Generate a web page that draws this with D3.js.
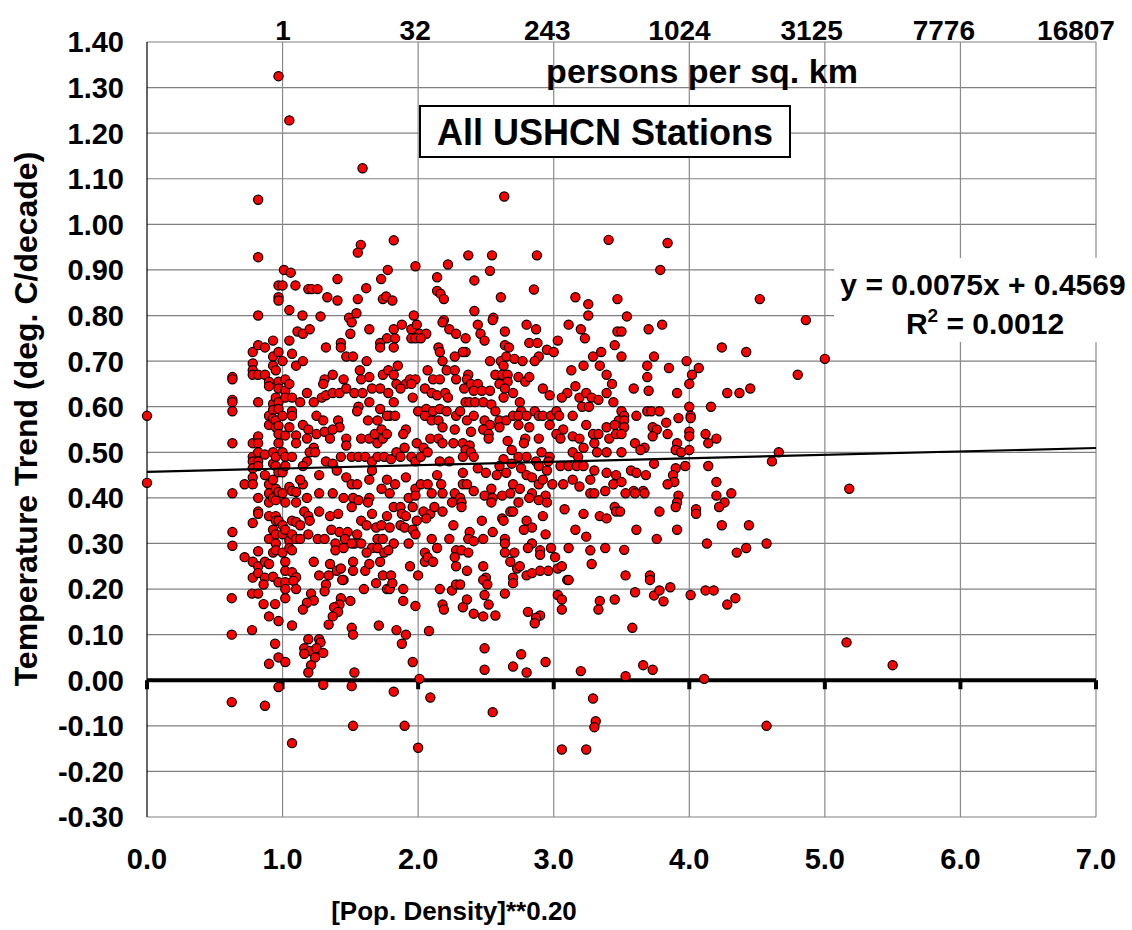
<!DOCTYPE html>
<html>
<head>
<meta charset="utf-8">
<script src="https://d3js.org/d3.v7.min.js"></script>
<style>
  body { margin: 0; background: #fff; }
  text { font-family: "Liberation Sans", Arial, sans-serif; font-weight: bold; fill: #000; }
</style>
</head>
<body>
<svg id="vis"></svg>
<script>
// ---- data ----
// x = [Pop. Density]**0.20, y = temperature trend (deg. C/decade)
const lowDensity = [
  [0,0.58],[0,0.433],
  [0.97,1.325],[1.05,1.228],[0.82,1.054],[0.82,0.928],[1.01,0.90],[1.06,0.894],[0.97,0.866],[1.0,0.866],[1.095,0.866],
  [0.97,0.84],[0.97,0.833],[1.05,0.812],[0.82,0.80],
  [0.63,0.665],[0.63,0.66],[0.63,0.615],[0.63,0.61],[0.63,0.59],[0.63,0.52],[0.63,0.41],[0.63,0.325],[0.63,0.295],
  [0.72,0.43],[0.72,0.27],
  [0.78,0.72],[0.78,0.695],[0.78,0.68],[0.78,0.67],[0.78,0.52],[0.78,0.49],[0.78,0.48],[0.78,0.465],[0.78,0.445],[0.78,0.43],
  [0.78,0.345],[0.78,0.26],[0.78,0.225],
  [0.82,0.735],[0.82,0.67],[0.82,0.61],[0.82,0.535],[0.82,0.52],[0.82,0.50],[0.82,0.48],[0.82,0.47],[0.82,0.40],[0.82,0.37],
  [0.82,0.365],[0.82,0.283],[0.82,0.25],[0.82,0.235],
  [0.87,0.73],[0.87,0.67],[0.87,0.495],[0.87,0.45],[0.87,0.26],[0.87,0.225],
  [0.90,0.655],[0.90,0.645],[0.90,0.58],[0.90,0.56],[0.90,0.43],[0.90,0.41],[0.90,0.39],[0.90,0.36],[0.90,0.31],[0.90,0.255],
  [0.93,0.745],[0.93,0.71],[0.93,0.69],[0.93,0.606],[0.93,0.593],[0.93,0.574],[0.93,0.50],[0.93,0.475],[0.93,0.44],[0.93,0.40],
  [0.93,0.33],[0.93,0.28],[0.93,0.227],
  [0.95,0.68],[0.95,0.62],[0.95,0.57],[0.95,0.555],[0.95,0.49],[0.95,0.47],[0.95,0.42],[0.95,0.395],[0.95,0.36],[0.95,0.35],
  [0.95,0.32],[0.95,0.30],[0.95,0.285],
  [0.97,0.72],[0.97,0.655],[0.97,0.64],[0.97,0.61],[0.97,0.595],[0.97,0.558],[0.97,0.54],[0.97,0.52],[0.97,0.456],[0.97,0.413],[0.97,0.35],
  [1.0,0.70],[1.0,0.58],[1.0,0.50],[1.0,0.456],[1.0,0.41],[1.0,0.34],[1.0,0.32],[1.0,0.28],
  [1.02,0.66],[1.02,0.635],[1.02,0.62],[1.02,0.537],[1.02,0.49],[1.02,0.47],[1.02,0.39],[1.02,0.33],[1.02,0.26],[1.02,0.24],
  [1.05,0.745],[1.05,0.65],[1.05,0.555],[1.05,0.424],[1.05,0.306],[1.05,0.29],
  [1.07,0.716],[1.07,0.62],[1.07,0.59],[1.07,0.58],[1.07,0.49],[1.07,0.415],[1.07,0.35],[1.07,0.32],[1.07,0.285],[1.07,0.237],
  [1.10,0.69],[1.10,0.537],[1.10,0.52],[1.10,0.413],[1.10,0.39],[1.10,0.347],[1.10,0.31],[1.10,0.226],[1.11,0.765],
  [0.86,0.21],[0.97,0.215],[1.02,0.215],[1.08,0.218],[1.02,0.20],[1.10,0.20],[0.625,0.18],[0.775,0.19],[0.82,0.19],
  [0.86,0.167],[0.945,0.167],[1.02,0.18],[0.90,0.14],[0.97,0.13],[1.07,0.12],[0.625,0.10],[0.775,0.11],[0.945,0.08],
  [0.97,0.05],[1.02,0.04],[0.90,0.036],[0.97,-0.015],[0.625,-0.048],[0.87,-0.056],[1.07,-0.138]
];

const midDensity = [
  [1.59,1.123],[1.577,0.955],[1.555,0.938],[1.82,0.965],[1.98,0.908],[2.22,0.912],[1.776,0.90],[1.727,0.88],[1.405,0.88],
  [1.617,0.86],[1.19,0.858],[1.215,0.858],[1.258,0.858],[1.33,0.84],[1.405,0.833],[1.555,0.836],[1.74,0.836],[1.764,0.842],
  [1.81,0.833],[2.14,0.884],[2.14,0.854],[2.165,0.848],[2.19,0.836],[1.147,0.80],[1.28,0.798],[1.49,0.795],[1.545,0.805],
  [1.968,0.80],[2.19,0.79],
  [1.15,0.76],[1.20,0.77],[1.51,0.785],[1.64,0.77],[1.82,0.77],[1.88,0.78],[1.95,0.77],[1.99,0.78],[2.01,0.76],[2.06,0.76],
  [2.18,0.785],[2.23,0.77],[2.28,0.76],[1.50,0.76],
  [1.32,0.73],[1.43,0.74],[1.43,0.73],[1.47,0.71],[1.52,0.71],[1.62,0.70],[1.72,0.74],[1.72,0.73],[1.77,0.75],[1.83,0.75],
  [1.82,0.73],[1.95,0.75],[1.98,0.75],[2.02,0.75],[2.15,0.73],[2.16,0.72],[2.18,0.70],[2.27,0.71],[1.15,0.70],[1.85,0.69],
  [1.31,0.66],[1.30,0.65],[1.37,0.67],[1.45,0.66],[1.57,0.68],[1.58,0.66],[1.64,0.665],[1.74,0.67],[1.78,0.68],[1.82,0.67],
  [1.84,0.65],[1.91,0.65],[1.94,0.66],[1.98,0.66],[1.95,0.65],[2.07,0.68],[2.11,0.66],[2.16,0.66],[2.21,0.68],[2.27,0.68],
  [2.28,0.66],[1.18,0.63],[1.23,0.61],[1.29,0.62],[1.32,0.625],[1.37,0.63],[1.42,0.63],[1.47,0.64],[1.53,0.63],[1.59,0.63],
  [1.66,0.64],[1.72,0.64],[1.78,0.63],[1.82,0.61],[1.87,0.64],[1.96,0.62],[2.05,0.64],[2.10,0.63],[2.14,0.625],[2.20,0.63],
  [2.22,0.62],
  [1.13,0.61],[1.56,0.60],[1.64,0.61],[1.72,0.595],[1.79,0.58],[2.00,0.59],[2.06,0.595],[2.11,0.59],[2.16,0.595],[2.21,0.59],
  [2.28,0.58],[1.25,0.58],[1.30,0.57],[1.41,0.57],[1.42,0.555],[1.55,0.59],[1.63,0.57],[1.70,0.57],[1.77,0.58],[1.83,0.58],
  [1.91,0.55],[2.05,0.58],[2.10,0.57],[2.15,0.57],[2.18,0.555],[2.27,0.55],[1.15,0.56],[1.19,0.55],
  [1.18,0.53],[1.23,0.51],[1.25,0.54],[1.31,0.545],[1.35,0.53],[1.37,0.55],[1.47,0.53],[1.47,0.515],[1.58,0.53],[1.64,0.53],
  [1.68,0.54],[1.73,0.55],[1.70,0.52],[1.74,0.53],[1.77,0.54],[1.89,0.54],[1.90,0.51],[1.99,0.52],[2.04,0.51],[2.09,0.53],
  [2.15,0.53],[2.18,0.52],[2.26,0.52],[1.20,0.50],[1.24,0.50],[1.18,0.48],[1.32,0.48],[1.37,0.475],[1.43,0.49],[1.51,0.49],
  [1.56,0.49],[1.61,0.49],[1.66,0.48],[1.70,0.49],[1.75,0.49],[1.80,0.485],[1.84,0.50],[1.87,0.49],[1.95,0.49],[1.98,0.48],
  [2.02,0.49],[2.07,0.50],[2.16,0.48],[2.23,0.48],[1.15,0.47],
  [1.27,0.45],[1.40,0.46],[1.47,0.445],[1.51,0.43],[1.55,0.43],[1.66,0.46],[1.64,0.44],[1.77,0.44],[1.83,0.43],[1.91,0.445],
  [1.98,0.42],[2.02,0.43],[2.07,0.43],[2.14,0.45],[2.17,0.43],[1.15,0.43],[1.13,0.44],[1.18,0.40],[1.27,0.41],[1.37,0.41],
  [1.45,0.40],[1.52,0.40],[1.56,0.395],[1.64,0.40],[1.73,0.42],[1.79,0.41],[1.93,0.40],[1.98,0.405],[2.10,0.41],[2.18,0.41],
  [2.27,0.41],
  [1.16,0.37],[1.19,0.36],[1.20,0.35],[1.27,0.37],[1.35,0.36],[1.41,0.365],[1.51,0.38],[1.58,0.35],[1.63,0.39],[1.66,0.365],
  [1.77,0.36],[1.82,0.38],[1.87,0.38],[1.88,0.365],[1.91,0.36],[1.96,0.38],[1.99,0.35],[2.04,0.37],[2.09,0.365],[2.12,0.38],
  [2.18,0.37],[2.25,0.39],[2.26,0.34],[1.13,0.34],[1.36,0.33],[1.42,0.325],[1.48,0.325],[1.55,0.32],[1.62,0.34],[1.69,0.335],
  [1.73,0.34],[1.79,0.335],[1.87,0.34],[1.90,0.335],[1.96,0.33],[2.06,0.355],
  [1.19,0.32],[1.26,0.31],[1.31,0.31],[1.39,0.30],[1.46,0.31],[1.53,0.30],[1.58,0.30],[1.66,0.29],[1.70,0.31],[1.74,0.31],
  [1.82,0.30],[1.93,0.30],[2.10,0.31],[2.23,0.31],[1.13,0.31],[1.39,0.285],[1.45,0.29],[1.51,0.30],[1.62,0.28],[1.70,0.29],
  [1.75,0.28],[1.78,0.285],[1.98,0.32],[2.05,0.28],[2.14,0.29],[2.28,0.285],
  [1.23,0.26],[1.35,0.255],[1.40,0.24],[1.43,0.245],[1.52,0.26],[1.52,0.24],[1.61,0.24],[1.64,0.255],[1.72,0.26],[1.74,0.23],
  [1.80,0.23],[1.94,0.25],[2.05,0.26],[2.07,0.27],[2.11,0.26],[2.27,0.27],[2.28,0.25],[1.27,0.23],[1.34,0.23],[1.45,0.22],
  [2.00,0.23],
  [1.32,0.21],[1.31,0.195],[1.21,0.19],[1.23,0.175],[1.18,0.17],[1.15,0.155],[1.44,0.22],[1.60,0.20],[1.69,0.213],[1.77,0.20],
  [1.79,0.20],[1.81,0.213],[1.89,0.20],[1.89,0.174],[1.98,0.163],[2.16,0.20],[2.25,0.197],[2.28,0.21],[2.18,0.166],[2.19,0.155],
  [1.43,0.18],[1.42,0.166],[1.38,0.16],[1.41,0.15],[1.37,0.14],[1.34,0.122],[1.50,0.174],[1.51,0.115],[1.52,0.10],[1.71,0.12],
  [1.84,0.11],[1.91,0.10],[1.88,0.08],[2.08,0.108],[1.19,0.09],[1.27,0.09],[1.28,0.083],[1.16,0.07],[1.20,0.064],[1.16,0.058],
  [1.25,0.07],[1.30,0.06],[1.24,0.05],[1.21,0.033],[1.19,0.017],[1.53,0.017],[1.96,0.04],[1.30,-0.01],[1.51,-0.013],
  [2.01,0.003],[1.82,-0.025],[2.09,-0.038],[1.52,-0.10],[1.90,-0.10],[2.00,-0.148]
];

const highDensity = [
  [2.635,1.061],[3.405,0.966],[2.37,0.932],[2.545,0.932],[2.876,0.932],[2.53,0.898],[2.415,0.877],[2.854,0.857],[2.61,0.84],
  [3.16,0.84],[3.255,0.825],[3.47,0.836],[2.415,0.81],[2.555,0.795],[3.255,0.80],
  [2.44,0.78],[2.55,0.79],[2.80,0.78],[2.87,0.77],[3.11,0.78],[3.20,0.77],[3.23,0.75],[3.47,0.765],[2.35,0.75],[2.46,0.76],
  [2.49,0.745],[2.64,0.765],[2.64,0.735],[2.67,0.73],[2.82,0.74],[2.88,0.74],[2.95,0.725],[3.00,0.72],[3.03,0.745],[2.35,0.72],
  [2.33,0.72],[2.53,0.70],[2.61,0.70],[2.65,0.71],[2.71,0.705],[2.77,0.70],[2.89,0.71],[2.86,0.70],[3.29,0.71],[3.35,0.72],
  [3.45,0.735],[2.63,0.69],
  [2.37,0.67],[2.36,0.66],[2.34,0.64],[2.39,0.65],[2.44,0.65],[2.41,0.635],[2.47,0.635],[2.53,0.635],[2.57,0.67],[2.62,0.67],
  [2.66,0.67],[2.66,0.655],[2.60,0.65],[2.64,0.64],[2.74,0.665],[2.79,0.655],[2.82,0.665],[2.70,0.63],[2.75,0.61],[3.13,0.68],
  [3.22,0.69],[3.34,0.69],[3.39,0.67],[3.43,0.65],[3.16,0.645],[3.10,0.63],[3.06,0.62],[2.92,0.64],[2.97,0.625],[3.19,0.62],
  [3.24,0.63],[3.28,0.62],[3.33,0.615],[3.39,0.63],[3.44,0.61],[2.35,0.61],[2.38,0.61],[2.42,0.61],[2.48,0.61],[2.54,0.605],
  [2.63,0.62],[3.21,0.60],[3.26,0.60],
  [2.31,0.59],[2.57,0.59],[2.76,0.59],[2.86,0.59],[2.89,0.58],[2.92,0.58],[2.98,0.58],[3.02,0.59],[3.04,0.58],[3.14,0.58],
  [2.36,0.57],[2.41,0.58],[2.49,0.57],[2.53,0.56],[2.60,0.57],[2.65,0.57],[2.70,0.58],[2.74,0.58],[2.80,0.58],[2.82,0.555],
  [2.97,0.56],[3.07,0.55],[3.24,0.56],[3.39,0.555],[3.48,0.57],[3.45,0.56],[2.39,0.545],[2.48,0.55],[2.52,0.54],[2.60,0.555],
  [2.74,0.56],[2.79,0.53],[2.78,0.52],[2.89,0.53],[3.02,0.54],[3.05,0.53],[3.14,0.535],[3.19,0.53],[3.22,0.51],[3.29,0.54],
  [3.33,0.54],[3.41,0.53],[3.46,0.54],[3.30,0.52],[2.52,0.53],[2.66,0.525],[2.33,0.52],[2.38,0.515],[2.35,0.505],[2.39,0.50],
  [2.69,0.505],[2.91,0.50],[2.97,0.49],[3.14,0.50],[3.18,0.49],[3.32,0.50],[3.39,0.50],
  [2.33,0.49],[2.41,0.49],[2.63,0.485],[2.74,0.49],[2.80,0.49],[2.87,0.48],[2.96,0.48],[2.69,0.475],[2.60,0.47],[2.44,0.465],
  [2.50,0.455],[2.58,0.45],[2.65,0.455],[2.76,0.465],[2.80,0.45],[2.84,0.445],[2.89,0.47],[2.95,0.46],[3.05,0.47],[3.11,0.47],
  [3.17,0.47],[3.22,0.47],[3.30,0.46],[3.39,0.455],[3.46,0.45],[2.33,0.455],[2.33,0.43],[2.36,0.43],[2.70,0.43],[2.89,0.43],
  [2.92,0.44],[2.99,0.43],[3.07,0.43],[3.14,0.44],[3.19,0.425],[3.27,0.44],[3.44,0.43],[2.41,0.415],[2.49,0.405],[2.54,0.42],
  [2.55,0.40],[2.62,0.405],[2.68,0.41],[2.75,0.42],[2.84,0.41],[2.94,0.405],[3.27,0.41],[3.30,0.41],[3.38,0.415],[2.31,0.40],
  [2.32,0.39],[2.32,0.38],[2.54,0.39],[2.74,0.39],[2.82,0.40],[2.89,0.395],[2.95,0.39],[2.68,0.37],[2.70,0.37],[2.92,0.36],
  [3.08,0.375],[3.22,0.365],[3.34,0.36],[3.39,0.355],[3.45,0.38],[3.46,0.37],[2.47,0.35],[2.62,0.355],[2.63,0.35],[2.80,0.35],
  [2.84,0.335],[2.78,0.33],[3.16,0.33],[2.38,0.325],[2.55,0.325],[2.94,0.32],[3.24,0.315],[2.37,0.31],[2.41,0.305],[2.48,0.31],
  [2.64,0.31],[2.64,0.30],[2.84,0.30],
  [2.32,0.285],[2.37,0.28],[2.64,0.28],[2.71,0.28],[2.81,0.29],[2.90,0.285],[2.90,0.275],[2.98,0.29],[3.01,0.27],[3.11,0.29],
  [3.27,0.285],[3.38,0.29],[2.36,0.24],[2.48,0.25],[2.50,0.225],[2.68,0.26],[2.73,0.245],[2.75,0.25],[2.80,0.23],[2.84,0.235],
  [2.90,0.24],[2.96,0.24],[3.03,0.245],[3.06,0.25],[3.10,0.22],[3.28,0.255],[2.70,0.225],
  [2.31,0.21],[2.48,0.22],[2.51,0.21],[2.70,0.213],[3.11,0.22],[2.49,0.187],[2.64,0.19],[2.36,0.177],[2.33,0.16],[2.52,0.166],
  [2.41,0.146],[2.48,0.14],[2.57,0.142],[2.81,0.15],[2.90,0.142],[2.87,0.137],[2.86,0.125],[3.03,0.187],[3.06,0.177],
  [3.06,0.155],[3.34,0.174],[3.33,0.155],[3.45,0.177],[2.49,0.07],[2.76,0.057],[2.49,0.023],[2.70,0.03],[2.80,0.017],
  [2.94,0.04],[3.20,0.02],[2.55,-0.07],[3.29,-0.04],[3.31,-0.09],[3.30,-0.103],[3.06,-0.152],[3.24,-0.152]
];

const urbanDensity = [
  [3.84,0.959],[3.786,0.90],[3.54,0.798],[4.52,0.836],
  [3.50,0.765],[3.70,0.77],[3.80,0.78],[4.24,0.73],[4.42,0.72],[3.50,0.71],[3.74,0.71],[3.69,0.69],[3.85,0.685],[3.98,0.70],
  [4.07,0.685],[4.02,0.67],[4.00,0.65],[3.69,0.665],[3.59,0.64],[3.70,0.635],[3.91,0.63],[4.28,0.63],[4.37,0.63],[4.45,0.64],
  [4.00,0.60],[4.16,0.60],[3.69,0.59],[3.72,0.59],[3.78,0.59],[3.61,0.58],[3.50,0.59],[3.52,0.58],[3.52,0.57],[3.52,0.555],
  [3.50,0.54],[4.01,0.58],[4.01,0.575],[3.92,0.575],[3.83,0.565],[3.73,0.555],[3.76,0.55],[3.73,0.535],[3.84,0.54],[4.00,0.545],
  [4.00,0.535],[4.12,0.54],[4.20,0.53],[4.14,0.52],[3.60,0.52],[3.67,0.51],[3.64,0.505],[3.50,0.50],[3.91,0.52],[3.90,0.505],
  [3.94,0.50],[4.00,0.505],[4.66,0.50],[4.61,0.48],[3.74,0.475],[3.97,0.47],[4.14,0.47],[3.57,0.46],[3.61,0.455],[3.68,0.45],
  [3.90,0.465],[3.88,0.45],[3.89,0.435],[3.84,0.43],[3.50,0.435],[4.20,0.435],[3.59,0.415],[3.66,0.415],[3.53,0.41],[3.60,0.41],
  [3.67,0.41],[3.92,0.405],[4.20,0.405],[4.31,0.41],[3.91,0.39],[3.90,0.38],[4.26,0.39],[4.22,0.38],[4.05,0.375],[4.05,0.365],
  [3.78,0.37],[3.49,0.37],[3.61,0.33],[3.91,0.33],[4.24,0.34],[4.44,0.34],[3.76,0.31],[3.52,0.286],[4.13,0.30],[4.35,0.28],
  [4.42,0.29],[4.57,0.30],[3.53,0.23],[3.71,0.23],
  [3.71,0.22],[3.60,0.193],[3.74,0.186],[3.78,0.197],[3.86,0.204],[3.81,0.173],[4.01,0.187],[4.12,0.197],[4.18,0.197],
  [4.28,0.166],[4.34,0.18],[3.58,0.115],[3.66,0.033],[3.73,0.023],[3.53,0.009],[4.11,0.003],[4.57,-0.10],
  [4.86,0.79],[4.80,0.67],[5.00,0.705],[5.18,0.42],[5.16,0.083],[5.50,0.033]
];

const stations = lowDensity.concat(midDensity, highDensity, urbanDensity);

const xTicks = [0, 1, 2, 3, 4, 5, 6, 7];
const xTickLabels = ["0.0", "1.0", "2.0", "3.0", "4.0", "5.0", "6.0", "7.0"];
const yTicks = [-0.3, -0.2, -0.1, 0, 0.1, 0.2, 0.3, 0.4, 0.5, 0.6, 0.7, 0.8, 0.9, 1.0, 1.1, 1.2, 1.3, 1.4];
const topTicks = [1, 2, 3, 4, 5, 6, 7];
const topTickLabels = ["1", "32", "243", "1024", "3125", "7776", "16807"];
const trend = { slope: 0.0075, intercept: 0.4569, r2: "0.0012" };

// ---- layout ----
const W = 1132, H = 930;
const margin = { left: 147, top: 42, right: 36, bottom: 113 };
const width = W - margin.left - margin.right,
      height = H - margin.top - margin.bottom;

const svg = d3.select("#vis").attr("width", W).attr("height", H);
svg.append("rect").attr("width", W).attr("height", H).attr("fill", "#fff");

const x = d3.scaleLinear().domain([0, 7]).range([margin.left, margin.left + width]);
const y = d3.scaleLinear().domain([-0.3, 1.4]).range([margin.top + height, margin.top]);
// top (persons per sq. km) labels sit on their own axis
const xTop = d3.scaleLinear().domain([1, 7]).range([283, 1076]);

// gridlines
svg.append("g").selectAll("line").data(yTicks).join("line")
  .attr("x1", x(0)).attr("x2", x(7))
  .attr("y1", d => y(d)).attr("y2", d => y(d))
  .attr("stroke", "#808080").attr("stroke-width", 1.2);
svg.append("g").selectAll("line").data(xTicks.slice(1)).join("line")
  .attr("x1", d => x(d)).attr("x2", d => x(d))
  .attr("y1", y(1.4)).attr("y2", y(-0.3))
  .attr("stroke", "#8a8a8a").attr("stroke-width", 1.2);
// left axis line
svg.append("line")
  .attr("x1", x(0)).attr("x2", x(0)).attr("y1", y(1.4)).attr("y2", y(-0.3))
  .attr("stroke", "#000").attr("stroke-width", 1.2);

// title box
svg.append("rect")
  .attr("x", 420).attr("y", 106).attr("width", 370).attr("height", 51)
  .attr("fill", "#fff").attr("stroke", "#000").attr("stroke-width", 2);
svg.append("text")
  .attr("x", 605).attr("y", 145).attr("text-anchor", "middle")
  .style("font-size", "36px").text("All USHCN Stations");

// equation box (hides the grid behind it)
svg.append("rect")
  .attr("x", 834).attr("y", 258).attr("width", 298).attr("height", 84)
  .attr("fill", "#fff");

// zero line with ticks
svg.append("line")
  .attr("x1", x(0)).attr("x2", x(7)).attr("y1", y(0)).attr("y2", y(0))
  .attr("stroke", "#000").attr("stroke-width", 4);
svg.append("g").selectAll("line").data(xTicks).join("line")
  .attr("x1", d => x(d)).attr("x2", d => x(d))
  .attr("y1", y(0)).attr("y2", y(0) + 9)
  .attr("stroke", "#000").attr("stroke-width", 4);

// points
svg.append("g").selectAll("circle").data(stations).join("circle")
  .attr("cx", d => x(d[0])).attr("cy", d => y(d[1]))
  .attr("r", 4.6)
  .attr("fill", "#ff0000").attr("stroke", "#000").attr("stroke-width", 1.2);

// trend line
svg.append("line")
  .attr("x1", x(0)).attr("y1", y(trend.intercept))
  .attr("x2", x(7)).attr("y2", y(trend.intercept + trend.slope * 7))
  .attr("stroke", "#000").attr("stroke-width", 2.2);

// axis labels
const fmtY = d => d3.format(".2f")(d).replace("\u2212", "-");
svg.append("g").selectAll("text").data(yTicks).join("text")
  .attr("x", 124).attr("y", d => y(d)).attr("dy", "0.36em")
  .attr("text-anchor", "end").style("font-size", "29px")
  .text(fmtY);
svg.append("g").selectAll("text").data(xTicks).join("text")
  .attr("x", d => x(d)).attr("y", 869)
  .attr("text-anchor", "middle").style("font-size", "29px")
  .text((d, i) => xTickLabels[i]);
svg.append("g").selectAll("text").data(topTicks).join("text")
  .attr("x", d => xTop(d)).attr("y", 40)
  .attr("text-anchor", "middle").style("font-size", "28px")
  .text((d, i) => topTickLabels[i]);

svg.append("text").attr("x", 702).attr("y", 83).attr("text-anchor", "middle")
  .style("font-size", "34px").text("persons per sq. km");
svg.append("text").attr("x", 454).attr("y", 920).attr("text-anchor", "middle")
  .style("font-size", "26px").text("[Pop. Density]**0.20");
svg.append("text")
  .attr("transform", "translate(37,419) rotate(-90)")
  .attr("text-anchor", "middle").style("font-size", "32px")
  .text("Temperature Trend (deg. C/decade)");

svg.append("text").attr("x", 983).attr("y", 295).attr("text-anchor", "middle")
  .style("font-size", "30px")
  .text(`y = ${trend.slope}x + ${trend.intercept}`);
const r2 = svg.append("text").attr("x", 985).attr("y", 334).attr("text-anchor", "middle")
  .style("font-size", "30px");
r2.append("tspan").text("R");
r2.append("tspan").attr("dy", -12).style("font-size", "19px").text("2");
r2.append("tspan").attr("dy", 12).text(` = ${trend.r2}`);
</script>
</body>
</html>
